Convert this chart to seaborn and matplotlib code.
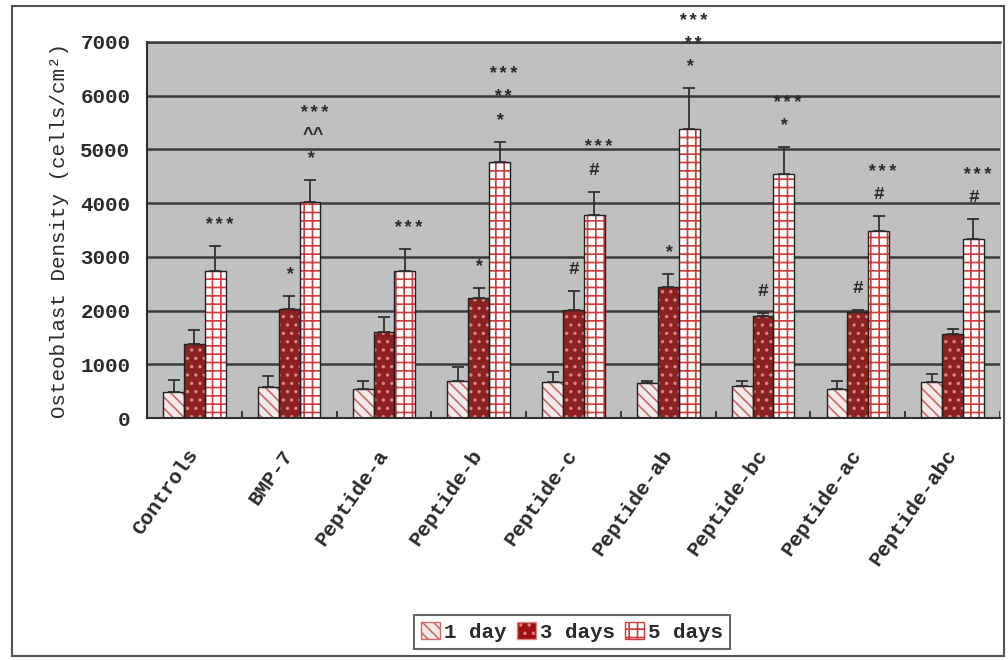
import numpy as np
import pandas as pd
import matplotlib
matplotlib.use('Agg')
import matplotlib.pyplot as plt
import seaborn as sns
from matplotlib.patches import Rectangle, Patch

# values
groups = ['Controls', 'BMP-7', 'Peptide-a', 'Peptide-b', 'Peptide-c',
          'Peptide-ab', 'Peptide-bc', 'Peptide-ac', 'Peptide-abc']
days = ['1 day', '3 days', '5 days']

mean_1d = [490, 580, 540, 690, 665, 660, 600, 535, 675]
sd_1d = [210, 200, 150, 265, 185, 30, 95, 160, 145]
mean_3d = [1380, 2030, 1605, 2230, 2010, 2435, 1900, 1980, 1560]
sd_3d = [260, 240, 280, 185, 355, 245, 60, 30, 90]
mean_5d = [2740, 4020, 2745, 4775, 3780, 5380, 4545, 3490, 3335]
sd_5d = [460, 410, 400, 370, 435, 765, 505, 275, 370]

# significance marks (3-day bars, 5-day bars stacked bottom to top)
marks_3d = ['', '*', '', '*', '#', '*', '#', '#', '']
marks_5d = [['***'], ['*', '^^', '***'], ['***'], ['*', '**', '***'],
            ['#', '***'], ['*', '**', '***'], ['*', '***'], ['#', '***'],
            ['#', '***']]

means = [mean_1d, mean_3d, mean_5d]
sds = [sd_1d, sd_3d, sd_5d]

df = pd.DataFrame({
    'group': groups * 3,
    'day': np.repeat(days, len(groups)),
    'value': mean_1d + mean_3d + mean_5d,
})

plt.rcParams['font.family'] = ['Liberation Mono', 'DejaVu Sans']
plt.rcParams['font.weight'] = 'bold'
plt.rcParams['hatch.linewidth'] = 1.2

face = ['#f6e8e8', '#9c1010', '#ffffff']
hatch_col = ['#c86a6a', '#e08585', '#d23a3a']
hatches = ['\\\\\\', '..', '++']
txt_col = '#2a2a2a'

fig = plt.figure(figsize=(10.08, 6.6), dpi=100)
ax = fig.add_axes([147 / 1008, 1 - 418 / 660, 853 / 1008, 376 / 660])
ax.set_facecolor('#c0c0c0')

sns.barplot(data=df, x='group', y='value', hue='day', order=groups,
            hue_order=days, palette=face, width=0.66, errorbar=None,
            legend=False, ax=ax, zorder=2)

bar_conts = list(ax.containers)
for i, cont in enumerate(bar_conts):
    xs = []
    for bar in cont:
        bar.set_hatch(hatches[i])
        bar.set_edgecolor(hatch_col[i])
        bar.set_linewidth(0)
        ax.add_patch(Rectangle(bar.get_xy(), bar.get_width(), bar.get_height(),
                               fill=False, edgecolor='#202020', lw=1.0, zorder=3))
        xs.append(bar.get_x() + bar.get_width() / 2)
    ax.errorbar(xs, means[i], yerr=[np.zeros(len(xs)), sds[i]], fmt='none',
                ecolor='#303030', elinewidth=1.3, capsize=4, capthick=1.3, zorder=4)

# annotations
bars3 = list(bar_conts[1])
bars5 = list(bar_conts[2])
for j in range(len(groups)):
    if marks_3d[j]:
        b = bars3[j]
        ax.text(b.get_x() + b.get_width() / 2, mean_3d[j] + sd_3d[j] + 400,
                marks_3d[j], ha='center', va='center', fontsize=13, color=txt_col)
    b = bars5[j]
    y0 = mean_5d[j] + sd_5d[j] + 400
    for k, m in enumerate(marks_5d[j]):
        ax.text(b.get_x() + b.get_width() / 2 + (4 if len(m) > 1 else 0) / 100,
                y0 + k * 430, m, ha='center', va='center', fontsize=13,
                color=txt_col, clip_on=False)

ax.set_ylim(0, 7000)
ax.set_yticks(range(0, 7001, 1000))
ax.yaxis.grid(True, color='#3a3a3a', lw=1.8)
ax.set_axisbelow(True)
ax.set_xlim(-0.5, 8.5)
ax.set_xticks(np.arange(-0.5, 9, 1), minor=True)
ax.tick_params(axis='x', which='minor', direction='in', length=5, width=1.2, color='#202020')
ax.tick_params(axis='x', which='major', length=0, pad=24, labelsize=15, labelcolor=txt_col)
ax.tick_params(axis='y', length=0, pad=12, labelsize=15, labelcolor=txt_col)
for lab in ax.get_xticklabels():
    lab.set_rotation(55)
    lab.set_ha('right')
    lab.set_va('center')
    lab.set_rotation_mode('anchor')

ax.set_xlabel('')
ax.set_ylabel('Osteoblast Density (cells/cm²)', fontsize=15, labelpad=8, color=txt_col)

for s in ['left', 'bottom']:
    ax.spines[s].set_color('#303030')
    ax.spines[s].set_linewidth(1.5)
ax.spines['top'].set_color('#3a3a3a')
ax.spines['top'].set_linewidth(1.8)
ax.spines['right'].set_color('#b0b0b0')

handles = [Patch(facecolor=face[i], edgecolor=hatch_col[i], hatch=hatches[i])
           for i in range(3)]
leg = fig.legend(handles, days, loc='center', bbox_to_anchor=(572 / 1008, 1 - 632 / 660),
                 ncol=3, frameon=True, fancybox=False, edgecolor='#404040',
                 handlelength=0.9, handleheight=0.9, handletextpad=0.2,
                 columnspacing=0.5, borderpad=0.35, fontsize=15)
leg.get_frame().set_linewidth(1.5)
for t in leg.get_texts():
    t.set_color(txt_col)

fig.add_artist(Rectangle((12 / 1008, 4 / 660), 992 / 1008, 650 / 660,
                         transform=fig.transFigure, fill=False,
                         edgecolor='#555555', lw=1.5))

fig.savefig('out.png', dpi=100)
